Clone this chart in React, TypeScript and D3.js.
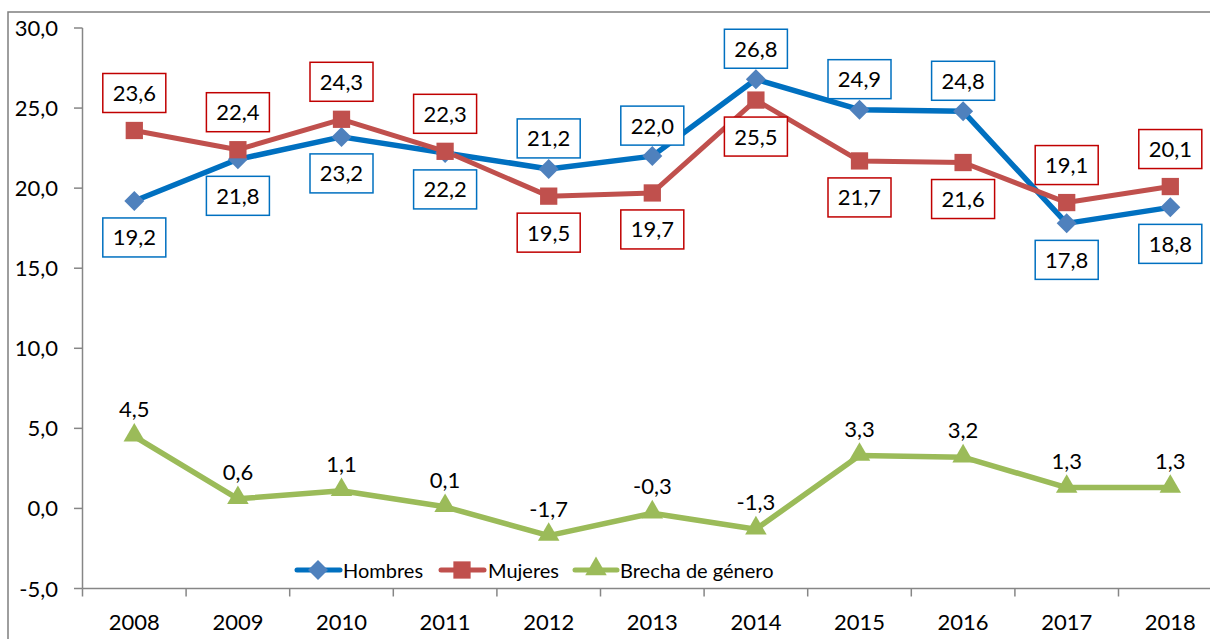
import React from 'react';
import * as d3 from 'd3';

const years = ['2008', '2009', '2010', '2011', '2012', '2013', '2014', '2015', '2016', '2017', '2018'];
const hombres = [19.2, 21.8, 23.2, 22.2, 21.2, 22.0, 26.8, 24.9, 24.8, 17.8, 18.8];
const mujeres = [23.6, 22.4, 24.3, 22.3, 19.5, 19.7, 25.5, 21.7, 21.6, 19.1, 20.1];
const brecha = [4.5, 0.6, 1.1, 0.1, -1.7, -0.3, -1.3, 3.3, 3.2, 1.3, 1.3];
// where each boxed label sits relative to its point
const hombresPos = ['below', 'below', 'below', 'below', 'above', 'above', 'above', 'above', 'above', 'below', 'below'];
const mujeresPos = ['above', 'above', 'above', 'above', 'below', 'below', 'below', 'below', 'below', 'above', 'above'];
const yTicks = [-5, 0, 5, 10, 15, 20, 25, 30];

const W = 1210;
const H = 639;
const FONT = 'Lato, "Open Sans", sans-serif';

const locale = d3.formatLocale({ decimal: ',', thousands: '.', grouping: [3], currency: ['', '€'], minus: '-' });
const fmt = locale.format('.1f');

const x = d3.scaleBand().domain(years).range([82.5, 82.5 + 11 * 103.6]);
const y = d3.scaleLinear().domain([-5, 30]).range([588.5, 28]);
const cx = (yr: string) => (x(yr) as number) + x.bandwidth() / 2;

const line = d3.line<number>().x((_, i) => cx(years[i])).y(d => y(d));

/* BoxLabel: a value label in a framed box, above or below the point */
function BoxLabel({ px, py, value, pos, color, gapAbove }) {
  const bw = 63, bh = 39;
  const top = pos === 'above' ? py - gapAbove - bh : py + 17;
  return (
    <g>
      <rect x={px - bw / 2} y={top} width={bw} height={bh} fill='#fff' stroke={color} strokeWidth={1.5} />
      <text x={px} y={top + bh / 2 + 8} textAnchor='middle' fontSize={22} fontFamily={FONT} fill='#000'>{fmt(value)}</text>
    </g>
  );
}

const diamond = d3.symbol().type(d3.symbolDiamond2).size(255);
const square = d3.symbol().type(d3.symbolSquare2).size(380);
const triangle = d3.symbol().type(d3.symbolTriangle).size(200);

export default function App() {
  const blue = '#0070C0', blueMk = '#4F81BD';
  const red = '#C0504D', redBox = '#C00000';
  const green = '#9BBB59';

  return (
    <svg width={W} height={H} style={{ position: 'absolute', left: 0, top: 0, background: '#fff' }}>
      {/* outer frame */}
      <rect x={8} y={12} width={1400} height={800} fill='none' stroke='#7f7f7f' strokeWidth={1.5} />

      {/* y axis */}
      <line x1={82.5} x2={82.5} y1={y(30)} y2={y(-5)} stroke='#868686' strokeWidth={1.5} />
      {yTicks.map(t => (
        <g key={`yt-${t}`}>
          <line x1={74} x2={82.5} y1={y(t)} y2={y(t)} stroke='#868686' strokeWidth={1.5} />
          <text x={58} y={y(t) + 8} textAnchor='end' fontSize={22} fontFamily={FONT} fill='#000'>{fmt(t)}</text>
        </g>
      ))}

      {/* x axis */}
      <line x1={82.5} x2={x.range()[1]} y1={y(-5)} y2={y(-5)} stroke='#868686' strokeWidth={1.5} />
      {years.map(yr => (
        <g key={`xt-${yr}`}>
          <line x1={x(yr)} x2={x(yr)} y1={y(-5)} y2={y(-5) + 8} stroke='#868686' strokeWidth={1.5} />
          <text x={cx(yr)} y={630} textAnchor='middle' fontSize={22} fontFamily={FONT} fill='#000'>{yr}</text>
        </g>
      ))}
      <line x1={x.range()[1]} x2={x.range()[1]} y1={y(-5)} y2={y(-5) + 8} stroke='#868686' strokeWidth={1.5} />

      {/* series lines */}
      <path d={line(brecha) as string} fill='none' stroke={green} strokeWidth={5.5} strokeLinejoin='round' />
      <path d={line(hombres) as string} fill='none' stroke={blue} strokeWidth={5.5} strokeLinejoin='round' />
      <path d={line(mujeres) as string} fill='none' stroke={red} strokeWidth={5} strokeLinejoin='round' />

      {/* markers */}
      {brecha.map((v, i) => (
        <path key={`tb-${i}`} d={triangle() as string} transform={`translate(${cx(years[i])},${y(v) - 1})`} fill={green} />
      ))}
      {hombres.map((v, i) => (
        <path key={`dh-${i}`} d={diamond() as string} transform={`translate(${cx(years[i])},${y(v)})`} fill={blueMk} />
      ))}
      {mujeres.map((v, i) => (
        <path key={`sm-${i}`} d={square() as string} transform={`translate(${cx(years[i])},${y(v)})`} fill={red} />
      ))}

      {/* labels */}
      {hombres.map((v, i) => (
        <BoxLabel key={`lh-${i}`} px={cx(years[i])} py={y(v)} value={v} pos={hombresPos[i]} color={blue} gapAbove={11} />
      ))}
      {mujeres.map((v, i) => (
        <BoxLabel key={`lm-${i}`} px={cx(years[i])} py={y(v)} value={v} pos={mujeresPos[i]} color={redBox} gapAbove={18} />
      ))}
      {brecha.map((v, i) => (
        <text key={`lb-${i}`} x={cx(years[i])} y={y(v) - 19} textAnchor='middle' fontSize={22} fontFamily={FONT} fill='#000'>{fmt(v)}</text>
      ))}

      {/* legend */}
      <g fontFamily={FONT} fontSize={20} fill='#000'>
        <line x1={297} x2={340} y1={570} y2={570} stroke={blue} strokeWidth={5} strokeLinecap='round' />
        <path d={diamond() as string} transform='translate(318,570)' fill={blueMk} />
        <text x={343} y={578}>Hombres</text>
        <line x1={441} x2={484} y1={570} y2={570} stroke={red} strokeWidth={5} strokeLinecap='round' />
        <path d={square() as string} transform='translate(462,570)' fill={red} />
        <text x={488} y={578}>Mujeres</text>
        <line x1={575} x2={617} y1={570} y2={570} stroke={green} strokeWidth={5} strokeLinecap='round' />
        <path d={triangle() as string} transform='translate(596,569)' fill={green} />
        <text x={620} y={578}>Brecha de género</text>
      </g>
    </svg>
  );
}
